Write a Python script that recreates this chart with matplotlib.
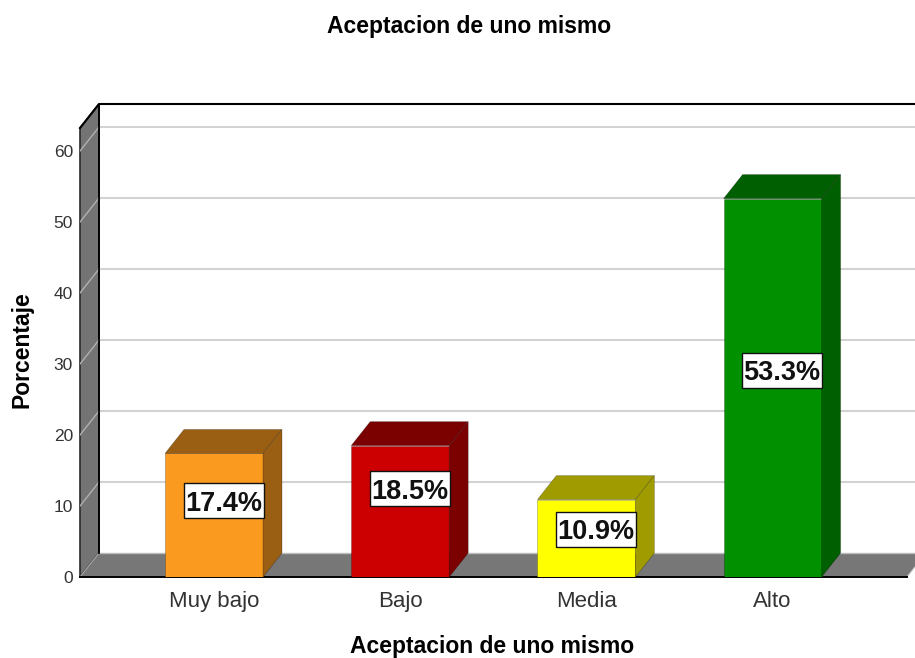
"""Aceptacion de uno mismo: 3D-look bar chart drawn on a plain 2D axes."""
import matplotlib
matplotlib.use("Agg")
import matplotlib.pyplot as plt
from matplotlib.patches import Polygon, Rectangle

plt.rcParams["font.family"] = ["Liberation Sans", "DejaVu Sans"]

categories = ["Muy bajo", "Bajo", "Media", "Alto"]
values = [17.4, 18.5, 10.9, 53.3]
value_labels = ["17.4%", "18.5%", "10.9%", "53.3%"]
y_ticks = [0, 10, 20, 30, 40, 50, 60]

front_colors = ["#FA9A1E", "#CC0000", "#FFFF00", "#009000"]
side_colors = ["#9A5F12", "#7B0000", "#A09C00", "#005F00"]

W, H = 915, 658
PX_Y = 7.1        # pixels per percent
PX_X = 186.2      # pixels per category
DX = 19 / PX_X    # depth of the fake 3D box
DY = 24 / PX_Y
BAR_W = 98 / PX_X
XMIN = (80 - 214) / PX_X
XMAX = XMIN + 835 / PX_X
YMAX = 473 / PX_Y
LABEL_Y = [10.77, 12.4, 6.7, 29.1]   # label centres are placed by hand in the original
BOX_W = 80 / PX_X
BOX_H = 35 / PX_Y

fig = plt.figure(figsize=(W / 100, H / 100), dpi=100)
ax = fig.add_axes([80 / W, (H - 577) / H, 835 / W, 473 / H])
ax.set_xlim(XMIN, XMAX)
ax.set_ylim(0, YMAX)
for s in ax.spines.values():
    s.set_visible(False)

# back wall grid, plus the slanted bit on the left wall
wall = Polygon([(XMIN, 0), (XMIN + DX, DY), (XMIN + DX, YMAX), (XMIN, YMAX - DY)],
               fc="#747474", ec="#2A2A2A", lw=1.2, zorder=1, clip_on=False)
ax.add_patch(wall)
for t in y_ticks:
    if t == 0:
        continue
    ax.plot([XMIN + DX, XMAX], [t + DY, t + DY], color="#D2D2D2", lw=1.5, zorder=1)
    ax.plot([XMIN, XMIN + DX], [t, t + DY], color="#B0B0B0", lw=1, zorder=2)

# floor
right = XMIN + 827 / PX_X
ax.add_patch(Polygon([(XMIN, 0), (XMIN + DX, DY), (right + DX, DY), (right, 0)],
                     fc="#777777", ec="none", zorder=2))
ax.plot([XMIN + DX, XMAX], [DY, DY], color="#BBBBBB", lw=1, zorder=2)
ax.plot([XMIN, XMIN + DX], [0, DY], color="#AAAAAA", lw=0.8, zorder=3)
ax.plot([right, right + DX], [0, DY], color="#CCCCCC", lw=0.8, zorder=3)
ax.plot([XMIN, right], [0, 0], color="black", lw=1.4, zorder=3, clip_on=False)

# wall outline
ax.plot([XMIN, XMIN + DX, XMAX], [YMAX - DY, YMAX, YMAX], color="black", lw=1.5,
        zorder=4, clip_on=False)
ax.plot([XMIN + DX, XMIN + DX], [DY, YMAX], color="black", lw=1.3, zorder=4)

# bars
xs = list(range(len(categories)))
ax.bar(xs, values, BAR_W, color=front_colors, edgecolor="#00000040", lw=0.6, zorder=5)
for x, v, c in zip(xs, values, side_colors):
    l, r = x - BAR_W / 2, x + BAR_W / 2
    ax.add_patch(Polygon([(l, v), (l + DX, v + DY), (r + DX, v + DY), (r, v)],
                         fc=c, ec="#00000040", lw=0.6, zorder=5))
    ax.add_patch(Polygon([(r, 0), (r + DX, DY), (r + DX, v + DY), (r, v)],
                         fc=c, ec="#00000040", lw=0.6, zorder=5))

for x, y, s in zip(xs, LABEL_Y, value_labels):
    cx = x + DX / 2
    ax.add_patch(Rectangle((cx - BOX_W / 2, y - BOX_H / 2), BOX_W, BOX_H, fc="white",
                           ec="#111111", lw=1, zorder=6))
    ax.text(cx, y, s, ha="center", va="center_baseline", fontsize=19.5, fontweight="bold",
            color="#111111", zorder=7)

ax.set_yticks(y_ticks)
ax.set_xticks(xs)
ax.set_xticklabels(categories, fontsize=16, color="#333333")
ax.tick_params(axis="y", length=0, pad=5, labelsize=12.5, labelcolor="#333333")
ax.tick_params(axis="x", length=0, pad=10)

fig.text(469 / W, 1 - 26.5 / H, "Aceptacion de uno mismo", ha="center", va="center",
         fontsize=16.5, fontweight="bold")
fig.text(492 / W, 1 - 646 / H, "Aceptacion de uno mismo", ha="center", va="center",
         fontsize=16.5, fontweight="bold")
fig.text(22 / W, 1 - 350 / H, "Porcentaje", ha="center", va="center", rotation=90,
         fontsize=16.5, fontweight="bold")

fig.savefig("out.png", dpi=100)
plt.close(fig)
